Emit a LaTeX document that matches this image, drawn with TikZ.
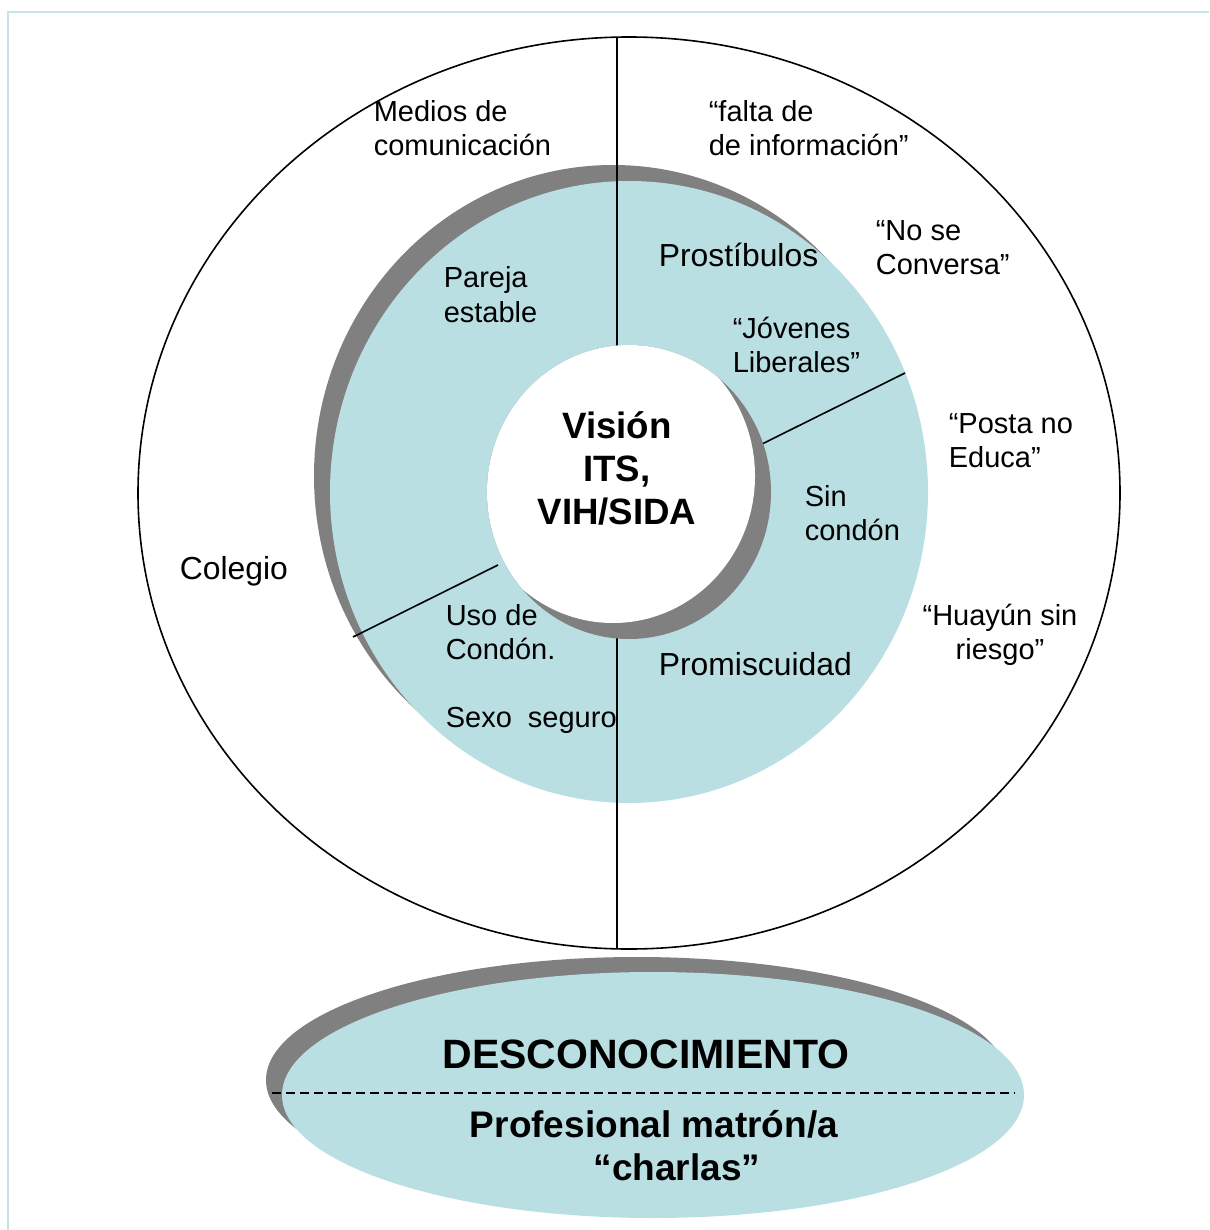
\documentclass[tikz,border=0pt]{standalone}
\usepackage{fontspec}
\setmainfont{Liberation Sans}
\definecolor{ringblue}{RGB}{186,223,227}
\definecolor{shade}{RGB}{128,128,128}
\definecolor{frameblue}{RGB}{196,228,232}
\newcommand\linesL[1]{\begin{tabular}[t]{@{}l@{}}#1\end{tabular}}
\newcommand\linesC[1]{\begin{tabular}[t]{@{}c@{}}#1\end{tabular}}
\begin{document}
\begin{tikzpicture}[x=0.75pt,y=-0.75pt,line width=1.2pt,
  txt/.style={inner sep=0pt,anchor=base west,font=\fontsize{21.75}{25.5}\selectfont},
  bigtxt/.style={inner sep=0pt,anchor=base west,font=\fontsize{23.9}{28}\selectfont},
  ctxt/.style={inner sep=0pt,anchor=base,font=\fontsize{21.75}{25.5}\selectfont},
  core/.style={inner sep=0pt,anchor=base,font=\bfseries\fontsize{27.5}{32.6}\selectfont},
  banner/.style={inner sep=0pt,anchor=base,font=\bfseries\fontsize{30.75}{36}\selectfont},
  subbanner/.style={inner sep=0pt,anchor=base,font=\bfseries\fontsize{27.75}{32.5}\selectfont},
  shadowfill/.style={fill=shade},
  ringfill/.style={fill=ringblue}]
\useasboundingbox (0,0) rectangle (1209,1230);

% page frame
\draw[frameblue,line width=1.5pt] (8,1230) -- (8,12) -- (1209,12);

% outer ellipse
\coordinate (c) at (629,492);
\draw (629,493) ellipse [x radius=491, y radius=456];

% shaded ring
\fill[shadowfill] (613,476) ellipse [x radius=299, y radius=311];
\fill[ringfill] (c) ellipse [x radius=299, y radius=311];

% sector dividers
\coordinate (vtop) at (617,37);
\coordinate (vbot) at (617,949);
\coordinate (d1a) at (760,445);
\coordinate (d1b) at (905,373);
\coordinate (d2a) at (498,565);
\coordinate (d2b) at (353,637);
\draw (vtop) -- (vbot);
\draw (d1a) -- (d1b);
\draw (d2a) -- (d2b);

% central hole with inner shading
\fill[shadowfill] (c) ellipse [x radius=142, y radius=147];
\begin{scope}
  \clip (c) ellipse [x radius=142, y radius=147];
  \fill[white] (613,476) ellipse [x radius=142, y radius=147];
\end{scope}

% bottom ellipse
\fill[shadowfill] (637,1080) ellipse [x radius=371, y radius=123];
\fill[ringfill] (653,1095) ellipse [x radius=371, y radius=123];
\coordinate (sepL) at (272,1093);
\coordinate (sepR) at (1015,1093);
\draw[line width=1pt,dash pattern=on 6.75pt off 3.75pt] (sepL) -- (sepR);

% core text
\node[core] (vision) at (617,438) {\linesC{Visión\\ITS,\\VIH/SIDA}};

% ring texts
\node[txt] (pareja) at (443,288) {\linesL{Pareja\\estable}};
\node[bigtxt] (prost) at (658,267) {Prostíbulos};
\node[txt] (jovenes) at (732,338) {\linesL{“Jóvenes\\Liberales”}};
\node[txt] (sin) at (804,506) {\linesL{Sin\\condón}};
\node[bigtxt] (promis) at (658,675) {Promiscuidad};
\node[txt] (uso) at (445,625) {\linesL{Uso de\\Condón.\\ \\Sexo\ \ seguro}};

% outer texts
\node[txt] (medios) at (373,122) {\linesL{Medios de\\comunicación}};
\node[txt] (falta) at (708,122) {\linesL{“falta de\\de información”}};
\node[txt] (nose) at (875,241) {\linesL{“No se\\Conversa”}};
\node[txt] (posta) at (948,433) {\linesL{“Posta no\\Educa”}};
\node[ctxt] (huayun) at (1000,625) {\linesC{“Huayún sin\\riesgo”}};
\node[bigtxt] (colegio) at (179,579) {Colegio};

% bottom texts
\node[banner] (desc) at (646,1068) {DESCONOCIMIENTO};
\node[subbanner] (prof) at (654,1137) {Profesional matrón/a};
\node[subbanner] (charlas) at (677,1180) {“charlas”};
\end{tikzpicture}
\end{document}
